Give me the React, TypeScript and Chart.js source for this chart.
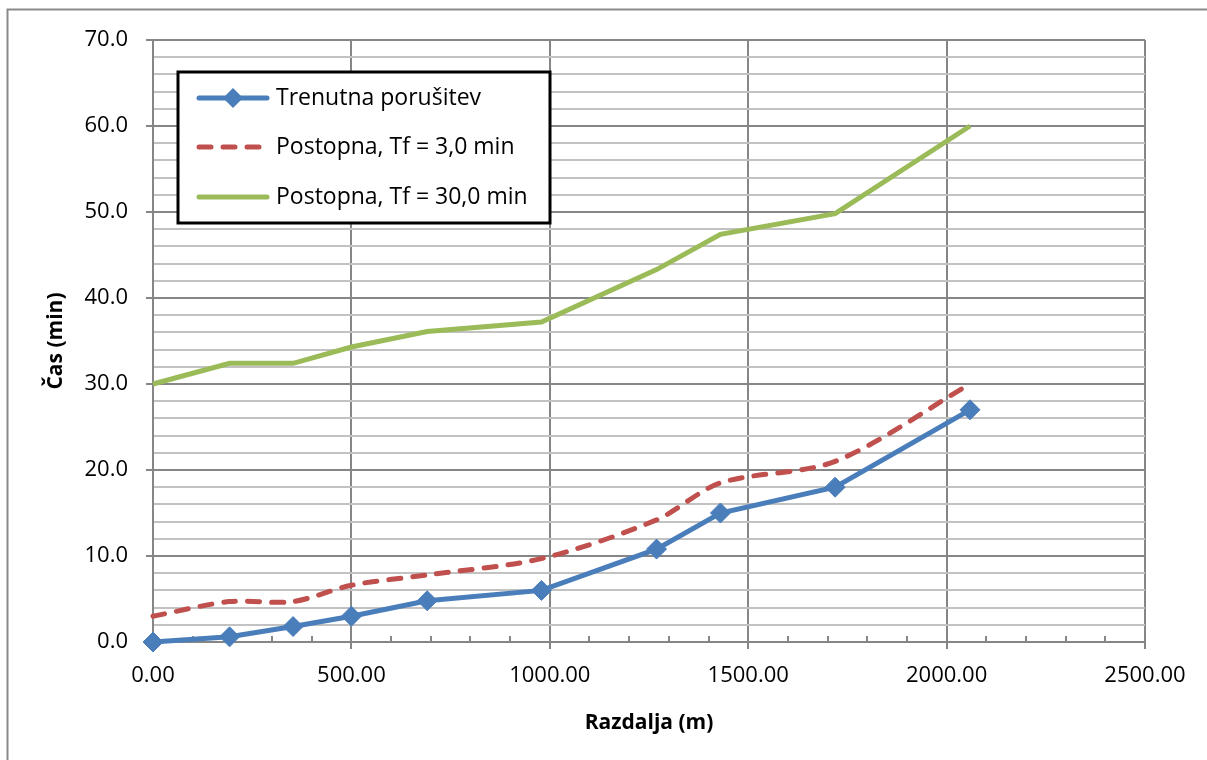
import React, { useEffect, useRef } from 'react';
import { Chart, registerables } from 'chart.js';

Chart.register(...registerables);

// ---- data ----
const distances = [0, 193, 353, 500, 691, 979, 1269, 1430, 1719, 2059];
const instantBreach = [0, 0.6, 1.8, 3.0, 4.8, 6.0, 10.8, 15.0, 18.0, 27.0];
const gradual3 = [3.0, 4.7, 4.7, 6.6, 7.8, 9.7, 14.2, 18.5, 21.0, 30.0];
const gradual30 = [30.0, 32.4, 32.4, 34.3, 36.1, 37.2, 43.3, 47.4, 49.8, 60.0];
const seriesLabels = ['Trenutna porušitev', 'Postopna, Tf = 3,0 min', 'Postopna, Tf = 30,0 min'];
const xAxisTitle = 'Razdalja (m)';
const yAxisTitle = 'Čas (min)';
const xMin = 0;
const xMax = 2500;
const xMajorStep = 500;
const xMinorStep = 100;
const yMin = 0;
const yMax = 70;
const yMajorStep = 10;
const yMinorStep = 2;

const BLUE = '#4A7EBB';
const RED = '#C0504D';
const GREEN = '#9BBB59';
const MAJOR_GRID = '#868686';
const MINOR_GRID = '#c2c2c2';
const FONT = '"Open Sans", "Liberation Sans", sans-serif';

const toPoints = (ys: number[]) => distances.map((x, i) => ({ x, y: ys[i] }));

const framePlugin = {
  id: 'outerFrame',
  afterDraw(chart: any) {
    const ctx = chart.ctx;
    ctx.save();
    ctx.strokeStyle = '#8a8a8a';
    ctx.lineWidth = 2;
    ctx.strokeRect(7.5, 9.5, 1600, 1200);
    ctx.restore();
  },
};

const minorTicksPlugin = {
  id: 'minorXTicks',
  beforeDatasetsDraw(chart: any) {
    const ctx = chart.ctx;
    const xs = chart.scales.x;
    const bottom = chart.chartArea.bottom;
    ctx.save();
    ctx.strokeStyle = MAJOR_GRID;
    ctx.lineWidth = 2;
    for (let v = xMin + xMinorStep; v < xMax; v += xMinorStep) {
      if (v % xMajorStep === 0) continue;
      const px = Math.round(xs.getPixelForValue(v));
      ctx.beginPath();
      ctx.moveTo(px, bottom);
      ctx.lineTo(px, bottom - 6);
      ctx.stroke();
    }
    ctx.restore();
  },
};

const legendPlugin = {
  id: 'boxLegend',
  afterDraw(chart: any) {
    const ctx = chart.ctx;
    const left = 178, top = 72, right = 550, bottom = 223;
    ctx.save();
    ctx.fillStyle = '#ffffff';
    ctx.fillRect(left, top, right - left, bottom - top);
    ctx.strokeStyle = '#000000';
    ctx.lineWidth = 3;
    ctx.strokeRect(left, top, right - left, bottom - top);
    const rows = [98, 147, 197];
    chart.data.datasets.forEach((ds: any, i: number) => {
      const y = rows[i];
      ctx.save();
      ctx.strokeStyle = ds.borderColor;
      ctx.lineWidth = ds.borderWidth;
      ctx.lineCap = 'round';
      ctx.setLineDash(ds.borderDash || []);
      ctx.beginPath();
      ctx.moveTo(199, y);
      ctx.lineTo(267, y);
      ctx.stroke();
      ctx.restore();
      if (ds.pointRadius > 0) {
        const r = ds.pointRadius;
        ctx.fillStyle = ds.pointBackgroundColor;
        ctx.beginPath();
        ctx.moveTo(233, y - r);
        ctx.lineTo(233 + r, y);
        ctx.lineTo(233, y + r);
        ctx.lineTo(233 - r, y);
        ctx.closePath();
        ctx.fill();
      }
      ctx.fillStyle = '#000000';
      ctx.font = `23px ${FONT}`;
      ctx.textBaseline = 'middle';
      ctx.textAlign = 'left';
      ctx.fillText(ds.label, 276, y);
    });
    ctx.restore();
  },
};

export default function App() {
  const canvasRef = useRef<HTMLCanvasElement | null>(null);

  useEffect(() => {
    const canvas = canvasRef.current;
    if (!canvas) return;
    const chart = new Chart(canvas, {
      type: 'line',
      data: {
        datasets: [
          {
            label: seriesLabels[0],
            data: toPoints(instantBreach),
            borderColor: BLUE,
            backgroundColor: BLUE,
            borderWidth: 5,
            pointStyle: 'rectRot',
            pointRadius: 10,
            pointBackgroundColor: BLUE,
            pointBorderColor: BLUE,
            pointBorderWidth: 1,
            tension: 0,
            clip: false,
          },
          {
            label: seriesLabels[1],
            data: toPoints(gradual3),
            borderColor: RED,
            backgroundColor: RED,
            borderWidth: 5,
            borderDash: [12, 12],
            borderCapStyle: 'round',
            pointRadius: 0,
            tension: 0.3,
            clip: false,
          },
          {
            label: seriesLabels[2],
            data: toPoints(gradual30),
            borderColor: GREEN,
            backgroundColor: GREEN,
            borderWidth: 5,
            pointRadius: 0,
            tension: 0,
            clip: false,
          },
        ],
      } as any,
      options: {
        responsive: false,
        animation: false,
        events: [],
        layout: { padding: { top: 40, right: 62, left: 0, bottom: 0 } },
        plugins: {
          legend: { display: false },
          tooltip: { enabled: false },
        },
        scales: {
          x: {
            type: 'linear',
            min: xMin,
            max: xMax,
            afterFit: (s: any) => {
              s.height = 118;
            },
            ticks: {
              stepSize: xMinorStep,
              autoSkip: false,
              maxRotation: 0,
              minRotation: 0,
              color: '#000000',
              padding: 14,
              font: { family: FONT, size: 22 },
              callback: (v: any) => (Number(v) % xMajorStep === 0 ? Number(v).toFixed(2) : ''),
            },
            grid: {
              color: (c: any) => (c.tick && c.tick.value % xMajorStep === 0 ? MAJOR_GRID : 'rgba(0,0,0,0)'),
              tickColor: (c: any) => (c.tick && c.tick.value % xMajorStep === 0 ? MAJOR_GRID : 'rgba(0,0,0,0)'),
              lineWidth: 2,
              tickLength: 7,
            },
            border: { color: MAJOR_GRID, width: 2 },
            title: {
              display: true,
              text: xAxisTitle,
              color: '#000000',
              font: { family: FONT, size: 21, weight: 'bold' },
              padding: { top: 0, bottom: 24 },
            },
          },
          y: {
            type: 'linear',
            min: yMin,
            max: yMax,
            afterFit: (s: any) => {
              s.width = 153;
            },
            ticks: {
              stepSize: yMinorStep,
              autoSkip: false,
              color: '#000000',
              padding: 18,
              font: { family: FONT, size: 22 },
              callback: (v: any) => (Number(v) % yMajorStep === 0 ? Number(v).toFixed(1) : ''),
            },
            grid: {
              color: (c: any) => (c.tick && c.tick.value % yMajorStep === 0 ? MAJOR_GRID : MINOR_GRID),
              tickColor: (c: any) => (c.tick && c.tick.value % yMajorStep === 0 ? MAJOR_GRID : 'rgba(0,0,0,0)'),
              lineWidth: 2,
              tickLength: 7,
            },
            border: { color: MAJOR_GRID, width: 2 },
            title: {
              display: true,
              text: yAxisTitle,
              color: '#000000',
              font: { family: FONT, size: 21, weight: 'bold' },
              padding: { top: 43, bottom: 0 },
            },
          },
        },
      } as any,
      plugins: [minorTicksPlugin, legendPlugin, framePlugin],
    });
    return () => chart.destroy();
  }, []);

  return (
    <div style={{ position: 'absolute', left: 0, top: 0, width: 1207, height: 760, background: '#ffffff' }}>
      <canvas ref={canvasRef} width={1207} height={760} style={{ display: 'block' }} />
    </div>
  );
}
